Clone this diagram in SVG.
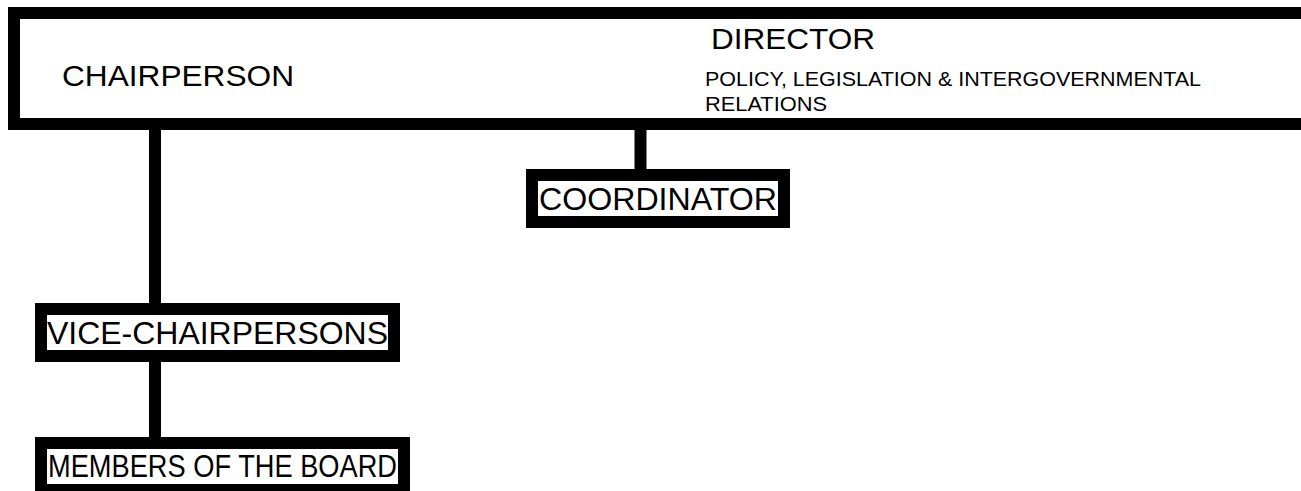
<svg xmlns="http://www.w3.org/2000/svg" width="1301" height="491" viewBox="0 0 1301 491">
<style>
.box{fill:#fff;stroke:#000;stroke-width:12}
.t{font-family:"Liberation Sans",Arial,sans-serif;fill:#000}
.conn{stroke:#000;stroke-width:12;fill:none}
</style>
<rect width="1301" height="491" fill="#fff"/>
<g id="connectors">
<line class="conn" x1="155" y1="125" x2="155" y2="308"/>
<line class="conn" x1="640.5" y1="125" x2="640.5" y2="174"/>
<line class="conn" x1="155" y1="357" x2="155" y2="442"/>
</g>
<g id="top">
<rect class="box" x="14" y="13" width="1295" height="111"/>
<text class="t" x="62" y="86" font-size="30" textLength="232" lengthAdjust="spacingAndGlyphs">CHAIRPERSON</text>
<text class="t" x="711" y="49" font-size="30" textLength="164" lengthAdjust="spacingAndGlyphs">DIRECTOR</text>
<text class="t" x="705" y="86" font-size="20" textLength="496" lengthAdjust="spacingAndGlyphs">POLICY, LEGISLATION &amp; INTERGOVERNMENTAL</text>
<text class="t" x="705" y="111" font-size="20" textLength="122" lengthAdjust="spacingAndGlyphs">RELATIONS</text>
</g>
<g id="coordinator">
<rect class="box" x="532" y="175" width="252" height="47"/>
<text class="t" x="539" y="210" font-size="32" textLength="238" lengthAdjust="spacingAndGlyphs">COORDINATOR</text>
</g>
<g id="vice">
<rect class="box" x="41" y="309" width="353" height="47"/>
<text class="t" x="47" y="344" font-size="32" textLength="341" lengthAdjust="spacingAndGlyphs">VICE-CHAIRPERSONS</text>
</g>
<g id="members">
<rect class="box" x="41" y="443" width="363" height="47"/>
<text class="t" x="48" y="477" font-size="32" textLength="349" lengthAdjust="spacingAndGlyphs">MEMBERS OF THE BOARD</text>
</g>
</svg>
